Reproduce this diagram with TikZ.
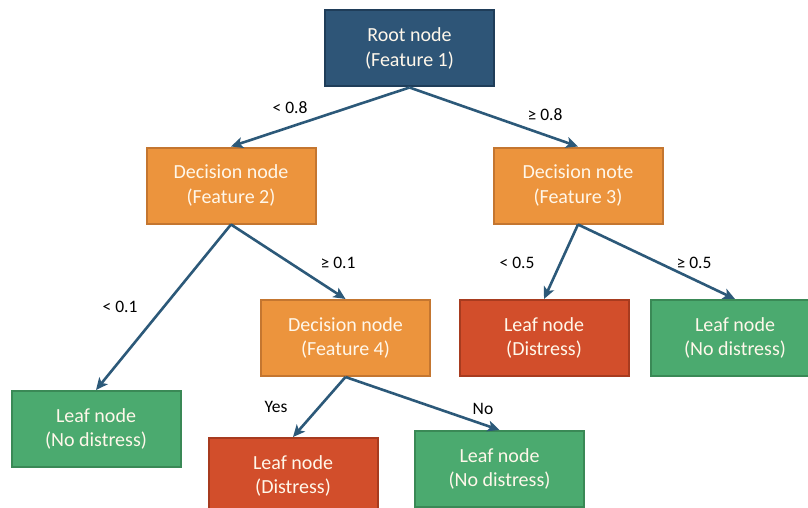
\documentclass[tikz,border=0pt]{standalone}
\usepackage{fontspec}
\setmainfont{Carlito}
\usetikzlibrary{arrows.meta}

\definecolor{rootfill}{HTML}{2E5577}
\definecolor{rootline}{HTML}{1F3D59}
\definecolor{decfill}{HTML}{EC943D}
\definecolor{decline}{HTML}{C47630}
\definecolor{redfill}{HTML}{D24E2B}
\definecolor{redline}{HTML}{A73B1F}
\definecolor{grnfill}{HTML}{4BAA6F}
\definecolor{grnline}{HTML}{3A8956}
\definecolor{arrowcol}{HTML}{2C5979}
\definecolor{nodetext}{HTML}{FFF7EA}

\tikzset{
  box/.style={rectangle, draw, line width=2pt, minimum width=169pt, minimum height=76pt,
    inner sep=0pt, align=center, text=nodetext, font=\fontsize{20}{24.5}\selectfont,
    execute at begin node={\rule{0pt}{19pt}}},
  rootbox/.style={box, fill=rootfill, draw=rootline},
  decbox/.style={box, fill=decfill, draw=decline},
  distressbox/.style={box, fill=redfill, draw=redline},
  okbox/.style={box, fill=grnfill, draw=grnline},
  branch/.style={draw=arrowcol, line width=2.6pt,
    -{Stealth[length=12pt, width=11pt, inset=3pt]}},
  cond/.style={font=\fontsize{17.5}{20}\selectfont, text=black, inner sep=0pt}
}

\begin{document}
\begin{tikzpicture}[x=1pt, y=-1pt]
\useasboundingbox (0,0) rectangle (808,508);
\clip (0,0) rectangle (808,508);
\fill[white] (0,0) rectangle (808,508);

% tree nodes
\node[rootbox] (root) at (409.5,48.5) {Root node\\(Feature 1)};
\node[decbox] (f2) at (231,185.5) {Decision node\\(Feature 2)};
\node[decbox] (f3) at (578,185.5) {Decision note\\(Feature 3)};
\node[decbox] (f4) at (345.5,338) {Decision node\\(Feature 4)};
\node[distressbox] (d1) at (544,338) {Leaf node\\(Distress)};
\node[okbox] (n1) at (735,338) {Leaf node\\(No distress)};
\node[okbox] (n2) at (96,429) {Leaf node\\(No distress)};
\node[distressbox] (d2) at (293,476) {Leaf node\\(Distress)};
\node[okbox] (n3) at (499.5,469) {Leaf node\\(No distress)};

% branches
\draw[branch] (root.south) -- (f2.north);
\draw[branch] (root.south) -- (f3.north);
\draw[branch] (f2.south) -- (n2.north);
\draw[branch] (f2.south) -- (f4.north);
\draw[branch] (f3.south) -- (d1.north);
\draw[branch] (f3.south) -- (n1.north);
\draw[branch] (f4.south) -- (d2.north);
\draw[branch] (f4.south) -- (n3.north);

% branch conditions
\node[cond] (c1) at (290,108) {< 0.8};
\node[cond] (c2) at (545,115) {≥ 0.8};
\node[cond] (c3) at (120,307) {< 0.1};
\node[cond] (c4) at (338,263) {≥ 0.1};
\node[cond] (c5) at (517,263) {< 0.5};
\node[cond] (c6) at (694,263) {≥ 0.5};
\node[cond] (c7) at (276,407) {Yes};
\node[cond] (c8) at (483,409) {No};
\end{tikzpicture}
\end{document}
